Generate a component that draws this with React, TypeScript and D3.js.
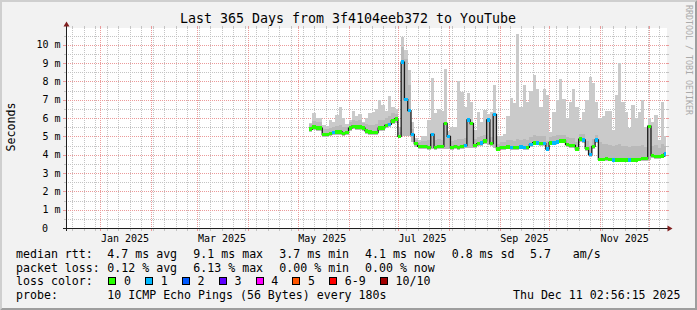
import React from "react";
import * as d3 from "d3";

// ---------- data ----------
const startTime = new Date(2024, 11, 11, 2, 56, 15);
const endTime = new Date(2025, 11, 11, 2, 56, 15);
const dataStart = new Date(2025, 4, 8);
const binDays = 2;

const medianMs = [
  5.40, 5.50, 5.45, 5.45, 5.10, 5.10, 5.15, 5.20, 5.25, 5.25,
  5.15, 5.20, 5.45, 5.55, 5.50, 5.50, 5.45, 5.30, 5.25, 5.20,
  5.20, 5.45, 5.45, 5.60, 5.65, 5.85, 5.95, 5.00, 9.05, 7.00,
  6.40, 5.10, 4.60, 4.45, 4.45, 4.45, 4.40, 5.10, 4.40, 4.45,
  4.45, 5.70, 5.00, 4.40, 4.45, 4.40, 4.45, 4.50, 5.90, 5.70,
  4.50, 4.60, 4.65, 4.75, 5.90, 4.60, 6.20, 4.30, 4.40, 4.40,
  4.42, 4.40, 4.38, 4.40, 4.42, 4.40, 4.40, 4.55, 4.65, 4.65,
  4.60, 4.60, 4.30, 4.65, 4.65, 4.70, 4.75, 4.75, 4.55, 4.50,
  4.50, 4.30, 4.85, 4.80, 4.35, 4.00, 4.45, 4.80, 3.75, 3.75,
  3.78, 3.75, 3.72, 3.72, 3.70, 3.70, 3.72, 3.70, 3.72, 3.72,
  3.75, 3.78, 3.78, 5.55, 3.95, 3.90, 3.90, 3.92, 4.05,
];
const smokeLoMs = [
  5.25, 5.35, 5.30, 5.30, 4.98, 4.98, 5.00, 5.05, 5.10, 5.10,
  5.00, 5.05, 5.30, 5.40, 5.35, 5.35, 5.30, 5.15, 5.10, 5.05,
  5.05, 5.30, 5.30, 5.45, 5.50, 5.70, 5.75, 4.90, 5.00, 5.00,
  5.00, 4.70, 4.40, 4.30, 4.32, 4.32, 4.28, 4.30, 4.28, 4.32,
  4.32, 4.30, 4.30, 4.28, 4.32, 4.28, 4.32, 4.35, 4.35, 4.35,
  4.38, 4.45, 4.50, 4.60, 4.55, 4.45, 4.35, 4.18, 4.28, 4.28,
  4.30, 4.28, 4.25, 4.28, 4.30, 4.28, 4.28, 4.42, 4.52, 4.52,
  4.48, 4.48, 4.18, 4.52, 4.52, 4.58, 4.62, 4.62, 4.42, 4.38,
  4.38, 4.18, 4.70, 4.65, 4.22, 3.88, 4.32, 4.62, 3.65, 3.65,
  3.66, 3.65, 3.62, 3.62, 3.60, 3.60, 3.62, 3.60, 3.62, 3.62,
  3.65, 3.66, 3.66, 3.70, 3.82, 3.78, 3.78, 3.80, 3.85,
];
const smokeMidMs = [
  5.70, 5.85, 5.80, 5.80, 5.40, 5.40, 5.45, 5.50, 5.55, 5.60,
  5.50, 5.50, 5.80, 5.90, 5.85, 5.90, 5.75, 5.65, 5.60, 5.60,
  5.70, 5.90, 5.90, 6.00, 6.10, 6.25, 6.20, 5.25, 9.90, 9.20,
  7.80, 5.40, 4.80, 4.70, 4.75, 4.75, 4.80, 5.20, 4.80, 4.85,
  4.80, 5.80, 5.10, 4.75, 4.80, 4.85, 4.85, 4.90, 6.00, 5.80,
  4.85, 4.95, 5.00, 5.10, 6.00, 4.95, 6.30, 4.60, 4.70, 4.70,
  4.80, 4.80, 4.75, 4.85, 4.80, 4.85, 4.80, 4.95, 5.05, 5.00,
  5.00, 5.00, 4.75, 4.95, 5.00, 5.05, 5.10, 5.10, 4.95, 4.90,
  4.90, 4.70, 5.15, 5.15, 4.75, 4.50, 4.85, 5.10, 4.70, 4.60,
  4.60, 4.55, 4.50, 4.55, 4.60, 4.50, 4.45, 4.40, 4.45, 4.45,
  4.50, 4.55, 4.40, 5.60, 4.50, 4.55, 4.35, 4.60, 4.50,
];
const smokeHiMs = [
  5.75, 6.25, 6.00, 6.00, 5.60, 5.55, 5.90, 5.80, 6.15, 6.60,
  6.00, 5.70, 5.90, 6.40, 6.10, 6.20, 5.80, 6.00, 6.25, 6.35,
  6.50, 7.00, 6.70, 6.40, 7.20, 6.60, 6.50, 5.50, 10.40, 9.70,
  8.60, 5.80, 4.90, 4.80, 5.00, 5.00, 5.90, 8.20, 6.30, 6.50,
  6.40, 8.70, 5.30, 5.50, 5.50, 8.00, 7.40, 6.60, 7.35, 6.90,
  5.35, 6.35, 5.80, 6.45, 6.20, 6.35, 7.80, 5.00, 5.00, 5.15,
  6.10, 7.10, 6.80, 10.60, 6.60, 7.80, 6.90, 7.45, 8.35, 7.60,
  6.60, 7.60, 7.25, 5.25, 6.35, 7.00, 8.15, 7.05, 6.00, 6.90,
  7.60, 6.60, 5.90, 6.35, 7.00, 8.25, 7.90, 6.90, 6.00, 6.10,
  6.40, 6.40, 5.35, 7.25, 9.00, 6.90, 6.35, 5.45, 6.70, 6.00,
  6.35, 7.00, 5.50, 6.00, 5.80, 6.15, 4.80, 6.90, 5.00,
];
const lossPings = [
  0, 0, 0, 0, 0, 0, 0, 1, 0, 0,
  0, 0, 0, 0, 0, 0, 0, 0, 0, 0,
  0, 0, 0, 0, 1, 0, 0, 0, 1, 1,
  1, 1, 0, 0, 0, 0, 0, 1, 0, 0,
  0, 0, 1, 0, 0, 0, 0, 1, 1, 0,
  0, 0, 1, 0, 1, 0, 1, 0, 0, 0,
  0, 1, 0, 0, 1, 1, 0, 1, 0, 1,
  0, 1, 1, 0, 1, 1, 0, 0, 0, 0,
  0, 0, 0, 1, 0, 1, 0, 1, 0, 0,
  0, 0, 1, 0, 0, 0, 0, 1, 0, 0,
  0, 0, 0, 0, 0, 0, 0, 0, 1,
];

const yTickValues = [0, 1, 2, 3, 4, 5, 6, 7, 8, 9, 10];
const yMinorValues = [0.5, 1.5, 2.5, 3.5, 4.5, 5.5, 6.5, 7.5, 8.5, 9.5, 10.5];
const lossLabels = ["0", "1", "2", "3", "4", "5", "6-9", "10/10"];
const lossColors = ["#26ff00", "#00b8ff", "#0059ff", "#5e00ff", "#ff00ff", "#ff5500", "#ff0000", "#a10000"];
const statNames = ["avg", "max", "min", "now"];
const rttStats = [4.7, 9.1, 3.7, 4.1];
const lossStats = [0.12, 6.13, 0.0, 0.0];
const rttSd = 0.8;
const amPerS = 5.7;
const titleText = "Last 365 Days from 3f4104eeb372 to YouTube";
const probeText = "10 ICMP Echo Pings (56 Bytes) every 180s";
const stampText = "Thu Dec 11 02:56:15 2025";

// ---------- layout ----------
const W = 697;
const H = 310;
const PL = 66;
const PR = 666;
const PT = 28;
const PB = 228;
const Y_MAX = 10.91;
const MONO = "'DejaVu Sans Mono', 'Liberation Mono', monospace";
const GRID = "#c4c4c4";
const MGRID = "#eb9a9a";

function lossColor(n: number) {
  if (n <= 5) return lossColors[n];
  if (n < 10) return lossColors[6];
  return lossColors[7];
}

export default function App() {
  const x = d3.scaleTime().domain([startTime, endTime]).range([PL, PR]);
  const y = d3.scaleLinear().domain([0, Y_MAX]).range([PB, PT]);
  const px = (v: number) => Math.round(v) + 0.5;

  const weeks = d3.timeSunday.range(startTime, endTime);
  const months = d3.timeMonth.range(startTime, endTime);
  const labelMonths = months.filter((m) => m.getMonth() % 2 === 0);
  const fmt = d3.timeFormat("%b %Y");

  const bins = medianMs.map((m, i) => {
    const t0 = d3.timeDay.offset(dataStart, i * binDays);
    let t1 = d3.timeDay.offset(dataStart, (i + 1) * binDays);
    if (t1 > endTime) t1 = endTime;
    return { t0, t1, m, lo: smokeLoMs[i], mid: smokeMidMs[i], hi: smokeHiMs[i], loss: lossPings[i] };
  });

  const linePts: [number, number][] = bins.map((b) => [x(b.t0), y(b.m)]);
  const last = bins[bins.length - 1];
  linePts.push([x(last.t1), y(last.m)]);
  const medLine = d3.line().curve(d3.curveStepAfter)(linePts) || "";

  // legend layout
  const statX = [107.3, 193.3, 279.3, 365];
  const boxXs: number[] = [];
  let bx = 108.3;
  lossLabels.forEach((l) => {
    boxXs.push(bx);
    bx += 8 + 7.7 + 7 * l.length + 14.1;
  });

  const legendY = [258, 271.6, 285.2, 298.8];
  const LFS = 11.6;

  return (
    <svg width={W} height={H} style={{ display: "block" }} fontFamily={MONO}>
      <style>{`body{margin:0}`}</style>
      <rect x={0} y={0} width={W} height={H} fill="#f2f2f2" />
      {/* bevel frame */}
      <polygon points={`0,${H} 2,${H - 2} 2,2 ${W - 2},2 ${W},0 0,0`} fill="#cfcfcf" />
      <polygon points={`2,${H - 2} ${W - 2},${H - 2} ${W - 2},2 ${W},0 ${W},${H} 0,${H}`} fill="#9e9e9e" />

      {/* canvas */}
      <rect x={PL} y={PT} width={PR - PL + 1} height={PB - PT} fill="#ffffff" />

      {/* minor grid */}
      <g stroke={GRID} strokeWidth={1} shapeRendering="crispEdges">
        {weeks.map((w, i) => (
          <g key={"w" + i}>
            <line x1={px(x(w))} x2={px(x(w))} y1={PT} y2={PB} strokeDasharray="1,1" />
            <line x1={px(x(w))} x2={px(x(w))} y1={PB} y2={PB + 3} />
            <line x1={px(x(w))} x2={px(x(w))} y1={PT - 2} y2={PT} />
          </g>
        ))}
        {yMinorValues.map((v, i) => (
          <g key={"ym" + i}>
            <line x1={PL} x2={PR + 1} y1={px(y(v))} y2={px(y(v))} strokeDasharray="1,1" />
            <line x1={PL - 2} x2={PL} y1={px(y(v))} y2={px(y(v))} />
            <line x1={PR + 1} x2={PR + 3} y1={px(y(v))} y2={px(y(v))} />
          </g>
        ))}
      </g>
      {/* major grid */}
      <g stroke={MGRID} strokeWidth={1} shapeRendering="crispEdges">
        {months.map((m, i) => (
          <g key={"m" + i}>
            <line x1={px(x(m))} x2={px(x(m))} y1={PT} y2={PB} strokeDasharray="1,1" />
            <line x1={px(x(m))} x2={px(x(m))} y1={PB} y2={PB + 3} />
            <line x1={px(x(m))} x2={px(x(m))} y1={PT - 2} y2={PT} />
          </g>
        ))}
        {yTickValues.filter((v) => v > 0).map((v, i) => (
          <g key={"yM" + i}>
            <line x1={PL} x2={PR + 1} y1={px(y(v))} y2={px(y(v))} strokeDasharray="1,1" />
            <line x1={PL - 3} x2={PL} y1={px(y(v))} y2={px(y(v))} />
            <line x1={PR + 1} x2={PR + 3} y1={px(y(v))} y2={px(y(v))} />
          </g>
        ))}
      </g>

      {/* smoke */}
      <g shapeRendering="crispEdges">
        {bins.map((b, i) => (
          <rect key={"sh" + i} x={x(b.t0)} width={x(b.t1) - x(b.t0)} y={y(b.hi)} height={y(b.lo) - y(b.hi)} fill="#cacaca" />
        ))}
        {bins.map((b, i) => (
          <rect key={"sm" + i} x={x(b.t0)} width={x(b.t1) - x(b.t0)} y={y(b.mid)} height={y(b.lo) - y(b.mid)} fill="#b9b9b9" />
        ))}
      </g>
      {/* median */}
      <path d={medLine} fill="none" stroke="#1a1a1a" strokeWidth={1.3} />
      <g shapeRendering="crispEdges">
        {bins.map((b, i) => (
          <rect key={"md" + i} x={x(b.t0)} width={x(b.t1) - x(b.t0)} y={y(b.m) - 1.75} height={3.5} fill={lossColor(b.loss)} />
        ))}
      </g>

      {/* axes */}
      <g shapeRendering="crispEdges">
        <line x1={PL - 3} x2={PR + 2} y1={PB + 0.5} y2={PB + 0.5} stroke="#1f1f1f" />
        <line x1={PL + 0.5} x2={PL + 0.5} y1={PB + 3} y2={PT - 2} stroke="#1f1f1f" />
      </g>
      <polygon points={`${PR + 1.5},${PB - 2.5} ${PR + 1.5},${PB + 3.5} ${PR + 6.5},${PB + 0.5}`} fill="#801f1f" />
      <polygon points={`${PL - 2.5},${PT - 1.5} ${PL + 3.5},${PT - 1.5} ${PL + 0.5},${PT - 6.5}`} fill="#801f1f" />

      {/* y labels */}
      <g fontSize={10} fill="#000">
        {yTickValues.map((v) =>
          v === 0 ? (
            <text key={"yl" + v} x={48} y={y(v) + 3.5} textAnchor="end">0</text>
          ) : (
            <text key={"yl" + v} x={60.6} y={y(v) + 3.5} textAnchor="end">{`${v} m`}</text>
          )
        )}
      </g>
      {/* x labels */}
      <g fontSize={10} fill="#000">
        {labelMonths.map((m, i) => (
          <text key={"xl" + i} x={x(d3.timeDay.offset(m, 15))} y={241.5} textAnchor="middle">{fmt(m)}</text>
        ))}
      </g>

      {/* title */}
      <text x={348} y={23} fontSize={13.3} textAnchor="middle" fill="#000">{titleText}</text>
      {/* unit label */}
      <text transform={`translate(15,127) rotate(-90)`} fontSize={LFS} textAnchor="middle" fill="#000">Seconds</text>
      {/* watermark */}
      <text transform={`translate(685.5,5) rotate(90)`} fontSize={8.3} fill="#aaaaaa">RRDTOOL / TOBI OETIKER</text>

      {/* legend */}
      <g fontSize={LFS} fill="#000" style={{ whiteSpace: "pre" }}>
        <text x={16} y={legendY[0]}>median rtt:</text>
        {rttStats.map((v, i) => (
          <text key={"r" + i} x={statX[i]} y={legendY[0]}>{`${v.toFixed(1)} ms ${statNames[i]}`}</text>
        ))}
        <text x={451.7} y={legendY[0]}>{`${rttSd.toFixed(1)} ms sd`}</text>
        <text x={530} y={legendY[0]}>{amPerS.toFixed(1)}</text>
        <text x={572.7} y={legendY[0]}>am/s</text>

        <text x={16} y={legendY[1]}>packet loss:</text>
        {lossStats.map((v, i) => (
          <text key={"l" + i} x={statX[i]} y={legendY[1]}>{`${v.toFixed(2)} % ${statNames[i]}`}</text>
        ))}

        <text x={16} y={legendY[2]}>loss color:</text>
        {lossLabels.map((l, i) => (
          <g key={"lc" + i}>
            <rect x={Math.round(boxXs[i]) + 0.5} y={277.5} width={7} height={7} fill={lossColors[i]} stroke="#000" strokeWidth={1} />
            <text x={boxXs[i] + 15.7} y={legendY[2]}>{l}</text>
          </g>
        ))}

        <text x={16} y={legendY[3]}>probe:</text>
        <text x={107.3} y={legendY[3]}>{probeText}</text>
        <text x={680.5} y={legendY[3]} textAnchor="end">{stampText}</text>
      </g>
    </svg>
  );
}
